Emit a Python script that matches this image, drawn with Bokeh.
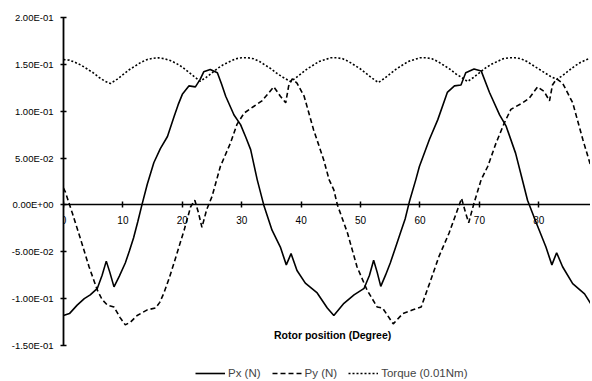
from bokeh.plotting import figure
from bokeh.models import FixedTicker, CustomJSTickFormatter, Legend, LegendItem, Label
from bokeh.embed import file_html
from bokeh.resources import INLINE

# ---------------- data ----------------
px_deg = [0, 1, 2.3, 3.5, 4.5, 5.7, 6.5, 7.2, 7.8, 8.5, 9.4, 10.4, 11.1, 11.8, 12.5, 13.2,
          14.1, 15.2, 16.3, 17.5, 18.6, 19.3, 20.0, 21.1, 22.2, 23.0, 23.6, 24.7, 25.9,
          26.6, 27.3, 28.7, 29.8, 30.7, 31.5, 32.6, 33.7, 35.1, 36.5, 37.5, 38.3, 39.3,
          40.7, 42.7, 44.4, 45.5, 47.2, 48.9, 50.6, 51.5, 52.2, 52.8, 53.4, 54.2, 55.0,
          55.8, 56.7, 57.5, 58.2, 59.3, 59.9, 61.6, 63.0, 64.6, 65.8, 66.9, 67.7, 69.1,
          70.3, 71.7, 73.4, 74.5, 76.1, 77.1, 78.1, 79.5, 81.2, 82.2, 83.0, 84.0, 85.7,
          87.7, 89.1, 90]
px_val = [-0.118, -0.116, -0.107, -0.100, -0.096, -0.089, -0.075, -0.060, -0.072, -0.0875,
          -0.076, -0.062, -0.049, -0.035, -0.018, 0.000, 0.022, 0.045, 0.060, 0.073, 0.094,
          0.107, 0.118, 0.127, 0.126, 0.134, 0.142, 0.1445, 0.141, 0.129, 0.116, 0.096,
          0.0857, 0.072, 0.059, 0.027, 0.000, -0.027, -0.045, -0.064, -0.052, -0.070,
          -0.0835, -0.094, -0.110, -0.118, -0.105, -0.096, -0.089, -0.075, -0.059, -0.072,
          -0.087, -0.075, -0.062, -0.047, -0.030, -0.015, 0.003, 0.027, 0.041, 0.070,
          0.091, 0.120, 0.127, 0.128, 0.141, 0.145, 0.143, 0.120, 0.096, 0.084, 0.055,
          0.030, 0.005, -0.018, -0.045, -0.064, -0.051, -0.066, -0.084, -0.095, -0.109,
          -0.117]

py_deg = [0, 0.3, 1.5, 2.9, 4.3, 5.7, 6.5, 7.4, 8.5, 9.5, 10.4, 11.3, 12.4, 14.1, 15.5,
          16.2, 16.9, 17.8, 18.6, 20.3, 21.4, 22.1, 22.7, 23.3, 24.1, 25.0, 26.4, 28.1,
          29.2, 30.4, 32.0, 33.4, 35.4, 36.5, 37.4, 37.9, 38.5, 39.3, 40.5, 42.1, 43.8,
          44.7, 45.5, 46.1, 47.8, 49.4, 51.1, 52.8, 53.7, 55.5, 57.1, 58.8, 60.2, 61.6,
          63.2, 64.9, 66.1, 67.0, 67.7, 68.2, 69.1, 70.3, 71.4, 72.8, 74.2, 75.3, 77.3,
          78.4, 79.8, 80.9, 81.8, 82.3, 83.0, 84.0, 85.7, 87.4, 89.1, 90]
py_val = [0.018, 0.014, -0.009, -0.037, -0.066, -0.091, -0.101, -0.107, -0.109, -0.120,
          -0.128, -0.125, -0.118, -0.112, -0.110, -0.104, -0.094, -0.078, -0.062, -0.027,
          -0.002, 0.005, -0.008, -0.024, -0.005, 0.009, 0.041, 0.066, 0.086, 0.098, 0.105,
          0.111, 0.126, 0.116, 0.109, 0.127, 0.1345, 0.130, 0.116, 0.080, 0.048, 0.027,
          0.016, 0.000, -0.030, -0.066, -0.091, -0.109, -0.110, -0.127, -0.116, -0.112,
          -0.109, -0.084, -0.055, -0.030, -0.009, 0.007, -0.009, -0.019, 0.002, 0.027,
          0.041, 0.066, 0.0875, 0.102, 0.109, 0.114, 0.126, 0.121, 0.111, 0.128, 0.1345,
          0.130, 0.109, 0.070, 0.034, 0.020]

tq_deg = [0, 1, 2, 3, 4, 5, 6, 7, 7.9, 9, 10, 11, 12, 13, 14, 15, 16, 17, 18, 19, 20, 21,
          22, 23, 24, 25, 26, 27, 28, 29, 30, 31, 32, 33, 34, 35, 36, 37, 38.2, 39, 40, 41,
          42, 43, 44, 45, 46, 47, 48, 49, 50, 51, 52, 53, 54, 55, 56, 57, 58, 59, 60, 61,
          62, 63, 64, 65, 66, 67, 68, 69, 70, 71, 72, 73, 74, 75, 76, 77, 78, 79, 80, 81,
          82, 83, 84, 85, 86, 87, 88, 89, 90]
tq_val = [0.155, 0.1545, 0.152, 0.149, 0.145, 0.141, 0.136, 0.132, 0.1296, 0.134, 0.139,
          0.144, 0.148, 0.152, 0.155, 0.1565, 0.157, 0.156, 0.154, 0.151, 0.147, 0.142,
          0.137, 0.132, 0.136, 0.141, 0.146, 0.150, 0.153, 0.156, 0.157, 0.157, 0.156,
          0.153, 0.149, 0.145, 0.140, 0.136, 0.1317, 0.135, 0.140, 0.145, 0.149, 0.153,
          0.155, 0.157, 0.157, 0.156, 0.153, 0.149, 0.145, 0.140, 0.135, 0.1306, 0.135,
          0.140, 0.145, 0.149, 0.153, 0.155, 0.157, 0.157, 0.156, 0.153, 0.149, 0.145,
          0.140, 0.136, 0.1317, 0.136, 0.141, 0.146, 0.150, 0.153, 0.156, 0.157, 0.157,
          0.156, 0.153, 0.149, 0.145, 0.141, 0.137, 0.134, 0.138, 0.143, 0.148, 0.152,
          0.155, 0.157, 0.157]

x_ticks = [0, 10, 20, 30, 40, 50, 60, 70, 80]
y_ticks = [-0.15, -0.10, -0.05, 0.0, 0.05, 0.10, 0.15, 0.20]
series_names = ["Px (N)", "Py (N)", "Torque (0.01Nm)"]
x_title = "Rotor position (Degree)"

FONT = "Liberation Sans"

# frame runs to the bottom of the figure; the y axis line is bounded to -0.15..0.2
p = figure(width=590, height=380, x_range=(0, 88.7), y_range=(-0.1874, 0.2),
           output_backend="svg", toolbar_location=None,
           min_border_left=63, min_border_right=0, min_border_top=17, min_border_bottom=0)
p.outline_line_color = None
p.grid.visible = False
p.background_fill_color = "white"

r_px = p.line(px_deg, px_val, line_color="black", line_width=1.6)
r_py = p.line(py_deg, py_val, line_color="black", line_width=1.6, line_dash="5 3")
r_tq = p.line(tq_deg, tq_val, line_color="black", line_width=1.6, line_dash="2 2")

# x axis crossing at y = 0
xa = p.xaxis[0]
xa.fixed_location = 0
xa.ticker = FixedTicker(ticks=x_ticks)
xa.minor_tick_line_color = None
xa.major_tick_in = 3
xa.major_tick_out = 3
xa.axis_line_width = 1.5
xa.major_tick_line_width = 1.5
xa.major_label_text_font = FONT
xa.major_label_text_font_size = "10px"
xa.major_label_text_color = "black"
xa.major_label_standoff = 8

ya = p.yaxis[0]
ya.bounds = (-0.15, 0.2)
ya.ticker = FixedTicker(ticks=y_ticks)
ya.minor_tick_line_color = None
ya.major_tick_in = 3
ya.major_tick_out = 3
ya.axis_line_width = 1.8
ya.major_tick_line_width = 1.5
ya.major_label_text_font = FONT
ya.major_label_text_font_size = "9.5px"
ya.major_label_text_color = "black"
ya.major_label_standoff = 7
ya.formatter = CustomJSTickFormatter(code="""
const s = tick.toExponential(2).toUpperCase();
const parts = s.split("E");
const e = parts[1];
const sign = e[0] === "-" ? "-" : "+";
const digits = e.replace("+", "").replace("-", "").padStart(2, "0");
return parts[0] + "E" + sign + digits;
""")

p.add_layout(Label(x=45.3, y=-0.139, text=x_title, text_font=FONT,
                   text_font_size="10.5px", text_font_style="bold",
                   text_align="center", text_baseline="middle", text_color="black"))

legend = Legend(items=[LegendItem(label=series_names[0], renderers=[r_px]),
                       LegendItem(label=series_names[1], renderers=[r_py]),
                       LegendItem(label=series_names[2], renderers=[r_tq])],
                orientation="horizontal", location=(132, 1))
legend.border_line_color = None
legend.background_fill_alpha = 0
legend.label_text_font = FONT
legend.label_text_font_size = "11.5px"
legend.glyph_width = 30
legend.glyph_height = 12
legend.label_height = 12
legend.label_standoff = 3
legend.spacing = 11
legend.padding = 0
legend.margin = 0
p.add_layout(legend, "center")

open("out.html", "w").write(file_html(p, INLINE))
